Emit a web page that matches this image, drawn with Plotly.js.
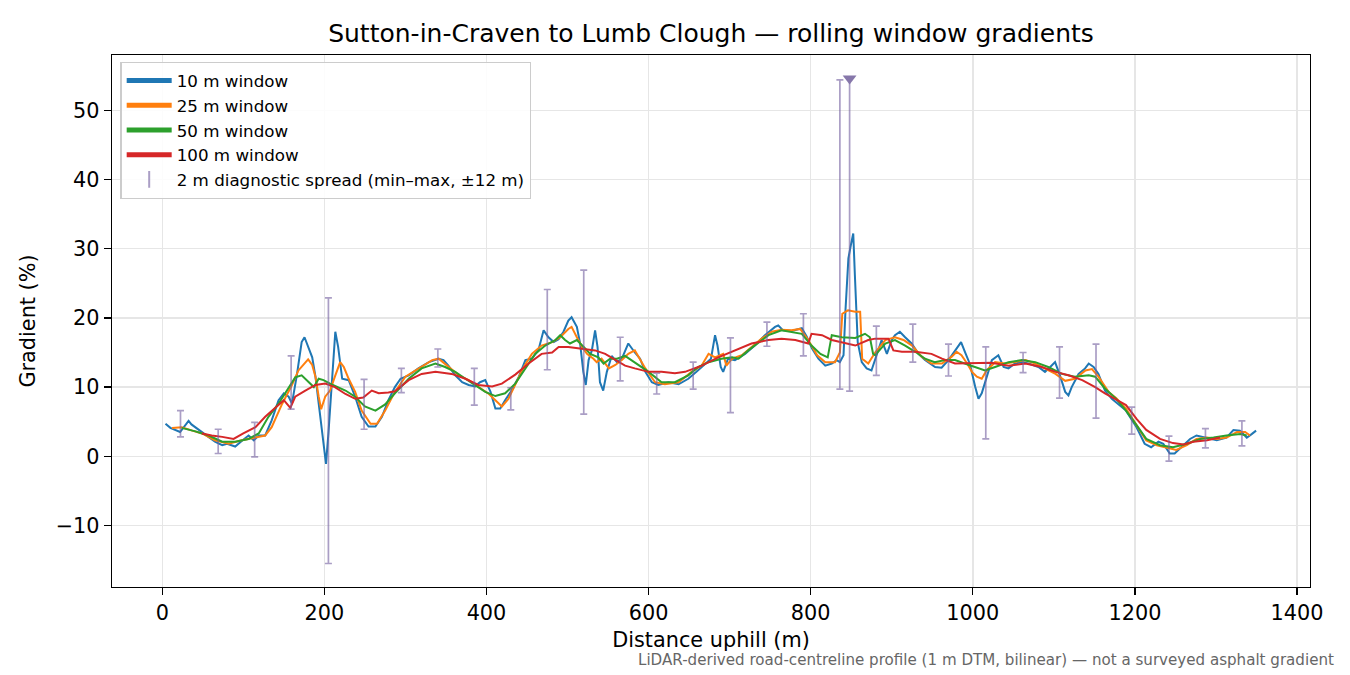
<!DOCTYPE html>
<html>
<head>
<meta charset="utf-8">
<script src="https://cdn.plot.ly/plotly-3.0.1.min.js"></script>
<style>
  html, body { margin: 0; padding: 0; background: #fff; }
  #plot { width: 1350px; height: 675px; }
</style>
</head>
<body>
<div id="plot"></div>
<script>
// rolling window gradients (distance m, gradient %)
var dist10 = [4, 10, 22, 27, 32.5, 36, 41, 49, 57, 65, 74, 80, 90, 98, 106.5, 113, 119, 127, 135, 143.5, 150, 156, 160, 166, 172, 175.5, 180.5, 185, 189, 193, 199, 202, 205, 209, 213.5, 217, 222, 230, 238, 246, 254.5, 263, 271, 279, 287, 294, 304, 316, 329, 341, 347, 353, 361.5, 370, 378, 386, 392, 398.5, 405, 411, 417, 423, 431, 440, 448, 456, 464, 470.5, 476.5, 483, 489, 495, 501, 505, 511.5, 515.5, 519.5, 522.5, 526, 530, 534, 537, 540, 544, 548.5, 554.5, 561, 567, 575, 583, 589.5, 596, 604, 612, 624.5, 637, 649, 659, 670, 677, 682, 685, 689, 692, 698, 706.5, 719, 731, 743.5, 756, 760, 766, 776.5, 789, 795, 801.5, 809.5, 818, 826, 832, 836, 840.5, 843, 846.5, 849.5, 852.5, 854.5, 858, 863, 869, 875, 879.5, 887.5, 894, 900, 904, 910, 916.5, 924.5, 933, 941, 953.5, 961.5, 970, 978, 985.5, 990.5, 996.5, 1003, 1007, 1011, 1017, 1023.5, 1031.5, 1038, 1044, 1052, 1060.5, 1068.5, 1081, 1089, 1095.5, 1101.5, 1108, 1114, 1118, 1122, 1130.5, 1138.5, 1143, 1149, 1155, 1163, 1171.5, 1177, 1189, 1202, 1212, 1220, 1229, 1235, 1243, 1249, 1257.5, 1268, 1276, 1288.5, 1301, 1313, 1321.5, 1329.5, 1338, 1344, 1349.5];
var grad10 = [4.7, 4.1, 3.5, 4.3, 5.1, 4.6, 4.2, 3.5, 2.8, 2.1, 1.6, 1.8, 1.4, 2.2, 3.0, 2.3, 3.0, 3.0, 5.2, 8.1, 9.1, 8.6, 7.6, 11.7, 16.5, 17.2, 15.6, 14.3, 11.5, 7.6, 2.3, -1.1, 3.3, 11.0, 18.0, 15.8, 11.2, 11.0, 8.6, 5.7, 4.3, 4.3, 5.7, 8.1, 10.0, 11.2, 11.7, 12.7, 13.6, 14.1, 13.9, 13.1, 11.7, 10.7, 10.3, 10.1, 10.7, 11.0, 9.3, 6.9, 6.9, 8.1, 9.5, 11.5, 13.9, 14.1, 15.3, 18.2, 17.2, 16.5, 16.9, 18.0, 19.6, 20.1, 18.7, 16.3, 12.2, 10.3, 13.9, 15.3, 18.2, 15.8, 10.7, 9.5, 12.2, 14.5, 13.6, 14.1, 16.3, 15.0, 14.1, 12.2, 10.7, 10.3, 10.7, 10.4, 11.2, 12.2, 13.4, 14.1, 17.5, 16.0, 12.9, 12.2, 14.1, 13.9, 14.8, 16.0, 17.5, 18.7, 18.9, 18.2, 18.1, 18.5, 17.3, 15.6, 14.1, 13.1, 13.4, 13.9, 13.6, 14.6, 21.3, 28.6, 30.5, 32.2, 26.2, 16.5, 13.6, 12.7, 12.4, 14.0, 16.8, 14.8, 16.8, 17.5, 18.0, 17.2, 16.3, 14.8, 13.9, 12.9, 12.8, 13.9, 15.3, 16.5, 15.0, 13.3, 10.0, 8.3, 9.1, 11.5, 13.9, 14.6, 12.9, 12.7, 13.4, 13.6, 13.4, 12.9, 12.2, 12.9, 13.6, 11.5, 9.3, 8.8, 10.0, 11.9, 12.7, 13.4, 12.9, 11.9, 9.5, 8.3, 7.8, 6.6, 4.2, 1.8, 1.3, 2.1, 1.8, 0.4, 0.4, 1.3, 2.5, 3.0, 2.7, 2.3, 2.7, 3.8, 3.7, 2.7, 3.2, 3.7];

var dist25 = [12, 24, 37, 49, 65, 82, 98, 115, 127, 135, 148, 160, 168, 174, 180, 185, 189, 193, 196, 201, 207, 213, 219.5, 224, 230, 238, 246, 257, 265, 275, 287, 300, 316, 333, 341, 353, 366, 378, 390, 403, 411, 419, 427, 435.5, 446, 456, 468, 481, 491, 501, 505, 511.5, 518, 524, 532, 536, 542, 551, 559, 567, 575, 583, 596, 608, 620, 637, 653, 665.5, 674, 682, 692, 696, 703, 715, 727, 739.5, 752, 764, 776.5, 787, 797, 808, 818, 830, 836, 839, 846, 855, 861, 863.5, 871, 879.5, 892, 904, 914.5, 925, 937, 949, 962, 974, 980, 986, 993, 999, 1005, 1011, 1017, 1027.5, 1040, 1052, 1065, 1077, 1089, 1102, 1114, 1126, 1139, 1147, 1155, 1167.5, 1177, 1189, 1202, 1214, 1227, 1239, 1251, 1264, 1276, 1289, 1301, 1313, 1326, 1336, 1342];
var grad25 = [4.1, 4.2, 3.7, 3.3, 2.3, 1.8, 2.3, 2.7, 3.0, 4.2, 7.6, 10.3, 12.4, 13.2, 14.0, 13.2, 11.5, 8.6, 6.8, 8.6, 9.5, 11.5, 13.6, 12.9, 11.2, 9.3, 6.6, 4.7, 4.7, 6.6, 9.3, 11.5, 12.7, 13.9, 14.1, 12.9, 11.7, 11.0, 10.0, 9.0, 8.1, 7.2, 8.3, 10.3, 12.9, 14.8, 16.0, 16.5, 17.2, 18.4, 18.7, 17.2, 15.8, 14.8, 14.1, 13.6, 14.1, 12.7, 13.2, 13.9, 14.8, 15.3, 12.7, 10.7, 10.4, 10.7, 12.2, 13.1, 14.8, 14.3, 14.8, 13.1, 14.1, 14.6, 15.8, 17.0, 18.0, 18.3, 18.2, 18.4, 16.8, 14.6, 13.6, 13.6, 15.0, 20.6, 21.1, 20.9, 20.9, 14.1, 13.4, 15.0, 16.8, 17.2, 16.8, 16.0, 14.4, 13.4, 13.4, 14.4, 15.1, 14.6, 13.4, 12.2, 11.5, 11.2, 12.4, 13.6, 13.4, 13.6, 13.9, 13.4, 12.7, 11.9, 10.9, 11.2, 12.4, 12.6, 11.5, 9.3, 8.4, 6.9, 4.5, 2.3, 1.6, 1.3, 0.9, 1.6, 2.5, 2.7, 2.5, 2.7, 3.5, 3.5, 3.0];

var dist50 = [24, 41, 57, 74, 90, 106.5, 119, 131, 143.5, 156, 164, 172, 180.5, 187, 193, 199, 207, 215.5, 226, 238, 250, 263, 275, 287, 304, 320, 337, 349, 361.5, 374, 386, 398.5, 411, 423, 435.5, 448, 460, 472.5, 485, 491, 497, 503, 511.5, 520, 528, 538, 544.5, 552.5, 561, 571, 583, 600, 616, 632.5, 649, 661, 674, 690, 703, 711, 723, 735, 748, 764, 776.5, 789, 801, 812, 821, 826, 838.5, 855, 867, 873, 877, 879.5, 892, 904, 916.5, 929, 941, 953, 966, 978, 990, 1003, 1015, 1027.5, 1044, 1060.5, 1077, 1093, 1110, 1126, 1143, 1151, 1163, 1177, 1189, 1202, 1214, 1231, 1247, 1264, 1280.5, 1297, 1313, 1330, 1338];
var grad50 = [4.1, 3.6, 3.0, 2.1, 2.1, 2.5, 3.3, 5.7, 7.6, 10.0, 11.4, 11.7, 10.7, 10.0, 11.2, 11.0, 10.5, 10.0, 9.5, 8.6, 7.2, 6.6, 7.5, 9.1, 11.2, 12.7, 13.4, 12.9, 12.2, 11.2, 10.3, 9.3, 8.7, 9.1, 10.5, 12.7, 14.8, 16.0, 16.8, 17.5, 16.8, 16.3, 16.8, 15.8, 14.8, 14.3, 13.4, 14.1, 14.1, 14.5, 13.6, 12.2, 10.7, 10.7, 11.7, 12.9, 13.6, 14.1, 14.3, 14.1, 15.3, 16.3, 17.5, 18.2, 18.0, 17.7, 16.0, 14.8, 14.3, 17.5, 17.2, 17.1, 17.7, 17.2, 14.8, 14.6, 16.3, 16.8, 16.0, 15.1, 14.1, 13.6, 13.9, 13.9, 13.4, 12.9, 12.4, 12.9, 13.6, 13.9, 13.6, 12.9, 11.9, 11.5, 11.7, 11.5, 9.8, 8.3, 6.6, 4.5, 2.5, 1.6, 1.3, 1.8, 2.5, 2.7, 3.0, 3.2, 3.0];

var dist100 = [49, 61, 74, 88, 100, 115, 127, 139, 150, 158, 164, 176.5, 189, 201, 213, 226, 238, 248, 258.5, 267, 279, 287, 304, 320, 337, 357, 374, 390, 407, 419, 435.5, 452, 468, 481, 489, 501, 518, 534, 546.5, 559, 571, 583, 600, 616, 632.5, 645, 665.5, 686, 707, 727, 748, 764, 781, 793, 797, 801, 814, 826, 842.5, 855, 871, 879.5, 896, 902, 912.5, 929, 949, 962, 978, 1003, 1023, 1044, 1065, 1085, 1102, 1118, 1135, 1151, 1163, 1177, 1189, 1202, 1214, 1231, 1247, 1260, 1272, 1289, 1305];
var grad100 = [3.3, 3.0, 2.8, 2.5, 3.3, 4.2, 5.7, 6.9, 8.1, 7.0, 8.6, 9.5, 10.3, 10.5, 10.0, 9.0, 8.3, 8.5, 9.5, 9.1, 9.2, 9.4, 11.0, 11.9, 12.2, 11.9, 11.2, 10.3, 10.1, 10.5, 11.8, 13.4, 14.8, 15.0, 15.8, 15.8, 15.5, 15.3, 14.8, 13.9, 13.1, 12.7, 12.2, 12.2, 12.0, 12.2, 13.1, 14.3, 15.3, 16.3, 16.8, 17.0, 16.8, 16.5, 16.3, 17.7, 17.5, 16.8, 16.3, 16.0, 16.8, 17.0, 17.0, 15.3, 15.1, 15.1, 14.8, 14.1, 13.4, 13.4, 13.5, 13.1, 13.4, 12.9, 12.2, 11.7, 11.0, 10.0, 9.1, 8.2, 7.4, 5.4, 3.8, 2.5, 1.9, 1.7, 2.1, 2.3, 2.7];

// 2 m diagnostic spread, min and max within +-12 m
var spreadDist = [22.5, 69, 114, 159, 205, 249, 295, 340, 385, 430, 475, 520, 565, 610, 655, 701, 746, 791, 836, 848, 881, 926, 970, 1016, 1062, 1107, 1152, 1196, 1242, 1287, 1332];
var spreadMin = [2.8, 0.4, -0.1, 6.8, -15.5, 3.9, 9.2, 12.9, 7.4, 6.7, 12.5, 6.1, 10.9, 9.0, 9.7, 6.3, 15.9, 14.5, 9.7, 9.4, 11.7, 13.6, 11.6, 2.5, 12.1, 8.4, 5.5, 3.2, -0.7, 1.2, 1.5];
var spreadMax = [6.6, 3.9, 4.9, 14.5, 22.9, 11.1, 12.7, 15.5, 12.7, 9.9, 24.1, 26.9, 17.2, 12.0, 13.6, 17.1, 19.4, 20.6, 54.4, 54.6, 18.8, 19.1, 16.2, 15.8, 15.0, 15.8, 16.2, 7.1, 2.9, 4.0, 5.1];

// spread that runs off the top of the axis
var clippedDist = [848];
var clippedTop = [54.6];

var spreadMid = spreadMin.map(function(lo, i) { return (lo + spreadMax[i]) / 2; });
var spreadUp = spreadMax.map(function(hi, i) { return hi - spreadMid[i]; });
var spreadDown = spreadMin.map(function(lo, i) { return spreadMid[i] - lo; });

var purple = 'rgba(118,98,162,0.62)';

function windowTrace(x, y, name, color) {
    return {
        x: x,
        y: y,
        mode: 'lines',
        name: name,
        line: {color: color, width: 2},
        type: 'scatter'
    };
}

var data = [
    windowTrace(dist10, grad10, '10 m window', '#1f77b4'),
    windowTrace(dist25, grad25, '25 m window', '#ff7f0e'),
    windowTrace(dist50, grad50, '50 m window', '#2ca02c'),
    windowTrace(dist100, grad100, '100 m window', '#d62728'),
    {
        x: spreadDist,
        y: spreadMid,
        mode: 'markers',
        name: '2 m diagnostic spread (min\u2013max, \u00b112 m)',
        marker: {symbol: 'line-ns-open', size: 0.01, color: purple, line: {color: purple, width: 1.8}},
        error_y: {type: 'data', symmetric: false, array: spreadUp, arrayminus: spreadDown,
                  color: purple, thickness: 1.7, width: 3.5},
        type: 'scatter'
    },
    {
        x: clippedDist,
        y: clippedTop,
        mode: 'markers',
        showlegend: false,
        marker: {symbol: 'triangle-down', size: 12, color: '#8677aa'},
        type: 'scatter'
    }
];

var layout = {
    width: 1350,
    height: 675,
    margin: {l: 112, r: 40, t: 55, b: 88},
    paper_bgcolor: '#fff',
    plot_bgcolor: '#fff',
    font: {family: 'DejaVu Sans', color: '#000', size: 20.8},
    title: {
        text: 'Sutton-in-Craven to Lumb Clough \u2014 rolling window gradients',
        font: {size: 25, color: '#000'},
        xref: 'paper', x: 0.5, xanchor: 'center',
        yref: 'container', y: 0.951, yanchor: 'middle'
    },
    xaxis: {
        range: [-62, 1416],
        tick0: 0, dtick: 200,
        ticks: 'outside', ticklen: 7, tickwidth: 1.3, tickcolor: '#000',
        tickfont: {size: 20.8},
        showline: true, linecolor: '#000', linewidth: 1.3, mirror: true,
        showgrid: true, gridcolor: '#e6e6e6', gridwidth: 1.4,
        zeroline: false,
        title: {text: 'Distance uphill (m)', font: {size: 20.8}, standoff: 8}
    },
    yaxis: {
        range: [-18.9, 58],
        tick0: 0, dtick: 10,
        ticks: 'outside', ticklen: 7, tickwidth: 1.3, tickcolor: '#000',
        tickfont: {size: 20.8},
        showline: true, linecolor: '#000', linewidth: 1.3, mirror: true,
        showgrid: true, gridcolor: '#e6e6e6', gridwidth: 1.4,
        zeroline: false,
        title: {text: 'Gradient (%)', font: {size: 20.8}, standoff: 14}
    },
    legend: {
        x: 0.007, y: 0.987, xanchor: 'left', yanchor: 'top',
        bgcolor: 'rgba(255,255,255,0.85)',
        bordercolor: '#cccccc', borderwidth: 1.3,
        font: {size: 16.7},
        itemsizing: 'constant',
        itemwidth: 45,
        tracegroupgap: 0
    },
    annotations: [{
        text: 'LiDAR-derived road-centreline profile (1 m DTM, bilinear) \u2014 not a surveyed asphalt gradient',
        xref: 'paper', yref: 'paper',
        x: 1.0217, y: -0.137, xanchor: 'right', yanchor: 'middle',
        showarrow: false,
        font: {size: 15.1, color: '#666666'}
    }],
    showlegend: true
};

Plotly.newPlot('plot', data, layout, {displayModeBar: false, staticPlot: true});
</script>
</body>
</html>
